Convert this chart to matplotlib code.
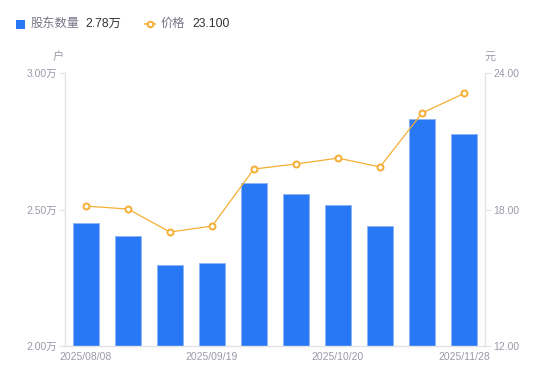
import matplotlib
matplotlib.use("Agg")
import matplotlib.pyplot as plt
from matplotlib.patches import Rectangle
from matplotlib.lines import Line2D

plt.rcParams['font.family'] = ['Liberation Sans', 'Noto Sans CJK SC', 'DejaVu Sans']

dates = ["2025/08/08", "2025/08/22", "2025/08/29", "2025/09/19", "2025/09/30",
         "2025/10/10", "2025/10/20", "2025/10/31", "2025/11/20", "2025/11/28"]
holders = [2.451, 2.403, 2.297, 2.304, 2.597, 2.557, 2.516, 2.440, 2.832, 2.778]  # 万户
prices = [18.15, 18.02, 17.01, 17.27, 19.78, 20.00, 20.26, 19.87, 22.24, 23.10]
shown_ticks = [0, 3, 6, 9]
left_ticks = [2.00, 2.50, 3.00]
right_ticks = [12.00, 18.00, 24.00]

W, H = 550, 381
fig = plt.figure(figsize=(W/100, H/100), dpi=100)
ax = fig.add_axes([65/W, (H-346)/H, 420/W, 273/H])
ax2 = ax.twinx()

blue = '#2878F5'
orange = '#F5AE33'
gray_txt = '#9a9aaa'
axis_col = '#e3e3e6'

x = list(range(len(dates)))
ax.bar(x, holders, width=0.6, color=blue, edgecolor='#8db4f5', linewidth=0.6, zorder=2)
ax.set_xlim(-0.5, 9.5)
ax.set_ylim(2.0, 3.0)
ax.set_yticks(left_ticks)
ax.set_yticklabels([f"{v:.2f}万" for v in left_ticks])
ax.set_xticks([x[i] for i in shown_ticks])
ax.set_xticklabels([dates[i] for i in shown_ticks])

ax2.plot(x, prices, color=orange, linewidth=0.9, marker='o', markersize=4.3,
         markerfacecolor='white', markeredgecolor=orange, markeredgewidth=1.4, zorder=3)
ax2.set_ylim(12, 24)
ax2.set_yticks(right_ticks)
ax2.set_yticklabels([f"{v:.2f}" for v in right_ticks])

for a in (ax, ax2):
    for s in a.spines.values():
        s.set_visible(False)
ax.spines['left'].set_visible(True)
ax.spines['bottom'].set_visible(True)
ax2.spines['right'].set_visible(True)
for s in (ax.spines['left'], ax.spines['bottom'], ax2.spines['right']):
    s.set_color(axis_col)
    s.set_linewidth(1.0)

ax.tick_params(axis='y', length=4, color=axis_col, labelsize=7.5, labelcolor=gray_txt, pad=2)
ax.tick_params(axis='x', length=0, labelsize=7.5, labelcolor=gray_txt, pad=4)
ax2.tick_params(axis='y', length=4, color=axis_col, labelsize=7.5, labelcolor=gray_txt, pad=2)

# unit labels
fig.text(58/W, 1-57/H, "户", fontsize=8, color=gray_txt, ha='center', va='center')
fig.text(490/W, 1-57/H, "元", fontsize=8, color=gray_txt, ha='center', va='center')

# legend
fig.patches.append(Rectangle((16/W, 1-29/H), 9/W, 9/H, transform=fig.transFigure,
                             facecolor=blue, edgecolor='none'))
fig.text(31/W, 1-24/H, "股东数量", fontsize=8.8, color='#777788', ha='left', va='center')
fig.text(85/W, 1-24/H, "2.78万", fontsize=8.8, color='#333333', ha='left', va='center')
fig.lines.append(Line2D([145/W, 155/W], [1-24/H, 1-24/H], transform=fig.transFigure,
                        color=orange, linewidth=1.2))
fig.lines.append(Line2D([150/W], [1-24/H], transform=fig.transFigure, marker='o',
                        markersize=4, markerfacecolor='white', markeredgecolor=orange,
                        markeredgewidth=1.4, linestyle='none'))
fig.text(161/W, 1-24/H, "价格", fontsize=8.8, color='#777788', ha='left', va='center')
fig.text(192/W, 1-24/H, "23.100", fontsize=8.8, color='#333333', ha='left', va='center')

fig.savefig("out.png", dpi=100)
